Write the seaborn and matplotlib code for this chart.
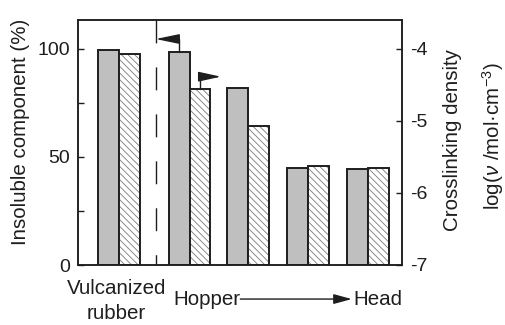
import numpy as np
import pandas as pd
import matplotlib
matplotlib.use("Agg")
import matplotlib.pyplot as plt
from matplotlib.lines import Line2D
from matplotlib.colors import to_rgba
import matplotlib.transforms as mtransforms
import seaborn as sns

# ---------------- data ----------------
stages = ["Vulcanized rubber", "Hopper", "Middle 1", "Middle 2", "Head"]
insoluble_pct = [99.5, 98.8, 81.8, 44.8, 44.4]          # left axis (%)
log_crosslink = [-4.07, -4.56, -5.07, -5.62, -5.65]     # right axis log(nu / mol cm^-3)
left_ticks = [0, 50, 100]
left_minor = [25, 75]
right_ticks = [-7, -6, -5, -4]
right_tick_labels = ["-7", "-6", "-5", "-4"]

# ---------------- layout / style ----------------
group_pos = np.array([0.0, 1.18, 2.16, 3.17, 4.17])
bar_w = 0.35
divider_x = 0.61
xlim = (-0.693, 4.743)
ytop_left = 113.4
INK = "#1e1e1e"
GRAY = "#bfbfbf"
HATCH_COLOR = "#7a7a7a"
FS = 14
FS_T = 14.8

sns.set_style("ticks")
plt.rcParams["font.family"] = ["Liberation Sans", "DejaVu Sans"]
plt.rcParams["mathtext.fontset"] = "custom"
plt.rcParams["mathtext.rm"] = "Liberation Sans"
plt.rcParams["mathtext.it"] = "Liberation Sans:italic"
plt.rcParams["axes.unicode_minus"] = False
plt.rcParams["hatch.linewidth"] = 0.6

W, H = 505, 325
fig = plt.figure(figsize=(W / 100, H / 100), dpi=100)
ax = fig.add_axes([78 / W, 1 - 265 / H, 324 / W, 245 / H])
ax2 = ax.twinx()

df = pd.DataFrame({
    "stage": stages,
    "pos": group_pos,
    "insoluble": insoluble_pct,
    "log_nu": log_crosslink,
})
df["x_gray"] = df["pos"] - bar_w / 2
df["x_hatch"] = df["pos"] + bar_w / 2
width_param = bar_w / np.min(np.diff(group_pos))

sns.barplot(data=df, x="x_gray", y="insoluble", native_scale=True, orient="x",
            ax=ax, color=GRAY, saturation=1, edgecolor=INK, linewidth=1.4,
            width=width_param, errorbar=None, zorder=2)
sns.barplot(data=df, x="x_hatch", y="log_nu", native_scale=True, orient="x",
            ax=ax2, color="white", saturation=1, edgecolor=INK, linewidth=1.4,
            width=width_param, errorbar=None, hatch="\\\\\\\\\\", zorder=2)

# right-axis bars rise from the bottom of the axis (-7), keep their tops
y2_bottom = right_ticks[0]
for p in ax2.patches:
    top = p.get_y() + p.get_height()
    p.set_y(y2_bottom)
    p.set_height(top - y2_bottom)
    if hasattr(p, "set_hatchcolor"):
        p.set_hatchcolor(HATCH_COLOR)
    else:
        p._hatch_color = to_rgba(HATCH_COLOR)

# limits
ax.set_xlim(*xlim)
ax.set_ylim(0, ytop_left)
ax2.set_ylim(y2_bottom, y2_bottom + 3 * ytop_left / 100)

# ticks
ax.set_yticks(left_ticks)
ax.set_yticklabels([str(t) for t in left_ticks])
ax.set_yticks(left_minor, minor=True)
ax.tick_params(axis="y", which="both", direction="in", length=4, width=1,
               pad=6, labelsize=FS, colors=INK)
ax.tick_params(axis="x", which="both", bottom=False, labelbottom=False)
ax2.set_yticks(right_ticks)
ax2.set_yticklabels(right_tick_labels)
ax2.tick_params(axis="y", direction="in", length=4, width=1, pad=6,
                labelsize=FS, colors=INK)
ax2.tick_params(axis="x", which="both", bottom=False, labelbottom=False)
ax.set_xlabel("")
ax.set_ylabel("")
ax2.set_xlabel("")
ax2.set_ylabel("")
for a in (ax, ax2):
    for s in a.spines.values():
        s.set_linewidth(1.1)
        s.set_color(INK)
        s.set_visible(True)

# dashed divider (drawn from the top down)
ax.add_line(Line2D([divider_x, divider_x], [1, 0], transform=ax.get_xaxis_transform(),
                   color=INK, lw=1.0, linestyle=(0, (16.5, 17.3)), zorder=3))

# axis indicator arrows
xg = group_pos[1] - bar_w / 2
y0 = insoluble_pct[1]
y1 = y0 + 5.8
ax.plot([xg, xg], [y0, y1], color=INK, lw=1.0, zorder=4)
ax.annotate("", xy=(divider_x, y1), xytext=(xg, y1),
            arrowprops=dict(arrowstyle="-|>,head_length=1.45,head_width=0.3",
                            mutation_scale=10, shrinkA=0, shrinkB=0, lw=1.0,
                            color=INK, fc=INK), zorder=4)

xh = group_pos[1] + bar_w / 2
r0 = log_crosslink[1]
r1 = r0 + 0.175
ax2.plot([xh, xh], [r0, r1], color=INK, lw=1.0, zorder=4)
ax2.annotate("", xy=(xh + 0.35, r1), xytext=(xh, r1),
             arrowprops=dict(arrowstyle="-|>,head_length=1.37,head_width=0.3",
                             mutation_scale=10, shrinkA=0, shrinkB=0, lw=1.0,
                             color=INK, fc=INK), zorder=4)

# x-axis captions
bt = mtransforms.blended_transform_factory(ax.transData, ax.transAxes)
ax.text(group_pos[0] - 0.05, -0.094, "Vulcanized", transform=bt, ha="center",
        va="center", fontsize=FS_T, color=INK, clip_on=False)
ax.text(group_pos[0] - 0.05, -0.198, "rubber", transform=bt, ha="center",
        va="center", fontsize=FS_T, color=INK, clip_on=False)
ax.text(0.90, -0.139, "Hopper", transform=bt, ha="left", va="center",
        fontsize=FS_T, color=INK, clip_on=False)
ax.annotate("", xy=(3.90, -0.139), xytext=(2.03, -0.139), xycoords=bt, textcoords=bt,
            arrowprops=dict(arrowstyle="-|>,head_length=1.1,head_width=0.3",
                            mutation_scale=10, shrinkA=0, shrinkB=0, lw=1.0,
                            color=INK, fc=INK), annotation_clip=False)
ax.text(3.93, -0.139, "Head", transform=bt, ha="left", va="center",
        fontsize=FS_T, color=INK, clip_on=False)

# axis titles
fig.text(21 / W, 1 - 132 / H, "Insoluble component (%)", rotation=90,
         ha="center", va="center", fontsize=FS_T, color=INK)
fig.text(452 / W, 1 - 140 / H, "Crosslinking density", rotation=90,
         ha="center", va="center", fontsize=FS_T, color=INK)
fig.text(493 / W, 1 - 136 / H, r"log($\nu$ /mol·cm$^{-3}$)", rotation=90,
         ha="center", va="center", fontsize=FS_T, color=INK)

fig.savefig("out.png", dpi=100, facecolor="white")
